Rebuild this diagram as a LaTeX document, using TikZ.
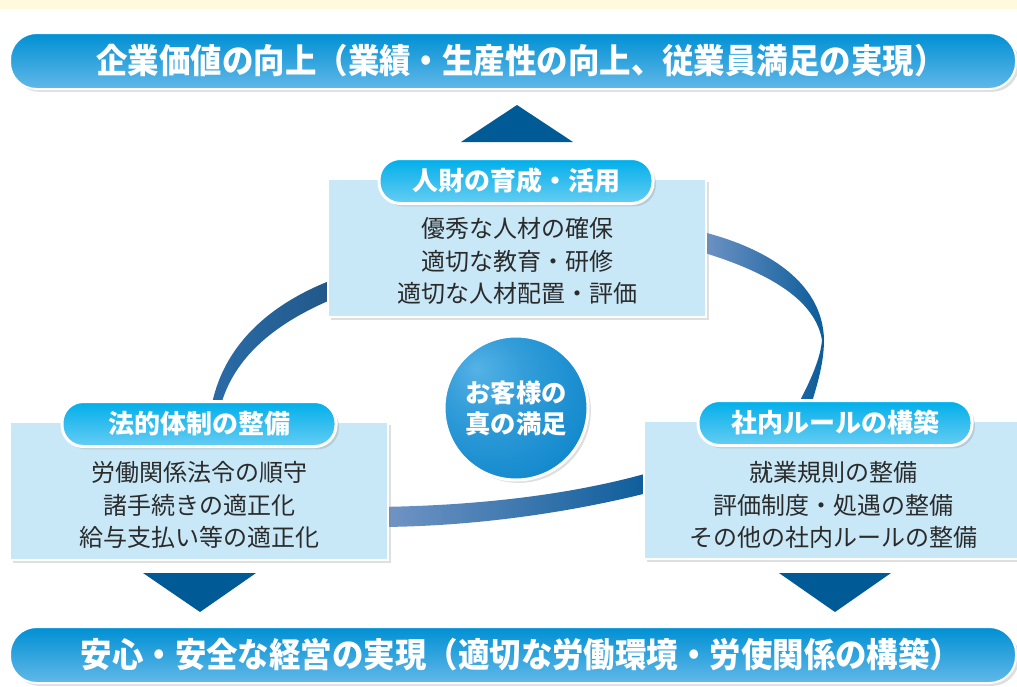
\documentclass[tikz,border=0pt]{standalone}
\usepackage{fontspec}
\newfontfamily\jpfont{Noto Sans CJK JP}
\usetikzlibrary{shadows}
\definecolor{creamstrip}{HTML}{FFF9DE}
\definecolor{bannertop}{HTML}{0090D4}
\definecolor{bannermid}{HTML}{2BA2DE}
\definecolor{bannerbot}{HTML}{62B8E8}
\definecolor{pilltop}{HTML}{00AEEA}
\definecolor{pillbot}{HTML}{66CDF3}
\definecolor{boxfill}{HTML}{C8E8F8}
\definecolor{arrowblue}{HTML}{005A96}
\definecolor{ringdark}{HTML}{0A5C9A}
\definecolor{ringlight}{HTML}{7596C6}
\definecolor{ringmid}{HTML}{2A6CA8}
\definecolor{bodytext}{HTML}{2B2B2B}
\definecolor{cirlight}{HTML}{55B2E6}
\definecolor{cirmid}{HTML}{0A84CA}
\definecolor{cirdark}{HTML}{0060A8}
\pgfdeclareradialshading{sphereblue}{\pgfpoint{-14bp}{14bp}}{color(0bp)=(cirlight);color(14bp)=(cirlight!55!cirmid);color(40bp)=(cirmid);color(70bp)=(cirdark)}
\newcommand{\narrowtext}[1]{\scalebox{0.925}[1]{\hspace{13pt}#1}}
\tikzset{
  banner/.style={draw=white, line width=1.5pt, rounded corners=20pt,
    minimum width=754.5pt, minimum height=42pt, inner sep=0pt,
    top color=bannertop, middle color=bannermid, bottom color=bannerbot,
    text=white, font=\jpfont\bfseries\fontsize{25.5}{27}\selectfont,
    drop shadow={opacity=0.25}},
  listbox/.style={draw=white, line width=1.5pt, fill=boxfill,
    minimum width=284pt, minimum height=103pt, inner sep=0pt,
    drop shadow={opacity=0.25}},
  pill/.style={draw=white, line width=2.25pt, rounded corners=16pt,
    minimum width=205.5pt, minimum height=33.75pt, inner sep=0pt,
    top color=pilltop, bottom color=pillbot,
    text=white, font=\jpfont\bfseries\fontsize{19.5}{22}\selectfont,
    drop shadow={opacity=0.25}},
  listtext/.style={align=center, inner sep=0pt, text=bodytext,
    font=\jpfont\fontsize{18}{24.5}\selectfont},
  ribbon/.style={left color=ringlight, right color=ringdark},
  headarrow/.style={fill=arrowblue, draw=none}
}
\begin{document}
\begin{tikzpicture}[x=0.75pt,y=0.75pt,yscale=-1,xscale=1]
\useasboundingbox (0,0) rectangle (1017,686);
\clip (0,0) rectangle (1017,686);
\fill [white] (0,0) rectangle (1017,686);
\fill [creamstrip] (0,0) rectangle (1017,9);
% ring behind the boxes
\shade [left color=ringmid, right color=ringmid!80!black] (340,277) .. controls (275,300) and (215,345) .. (209,425) -- (217,425) .. controls (225,355) and (285,318) .. (340,296) -- cycle ;
\shade [ribbon] (695,230) .. controls (780,250) and (823,290) .. (824,340) .. controls (824,370) and (812,400) .. (805,425) -- (787,425) .. controls (803,395) and (820,365) .. (822,340) .. controls (815,300) and (770,272) .. (695,250) -- cycle ;
\shade [ribbon] (375,507) .. controls (470,506) and (570,496) .. (655,471) -- (655,491) .. controls (570,513) and (470,527) .. (375,527) -- cycle ;
% arrows
\draw [headarrow] (461,142) -- (517,105) -- (573,142) -- cycle ;
\draw [headarrow] (143,573) -- (256,573) -- (200,612) -- cycle ;
\draw [headarrow] (779,573) -- (891,573) -- (835,612) -- cycle ;
% banners
\draw (513,61) node [banner] (goal) {\narrowtext{企業価値の向上（業績・生産性の向上、従業員満足の実現）}};
\draw (513,655) node [banner] (base) {\narrowtext{安心・安全な経営の実現（適切な労働環境・労使関係の構築）}};
% three pillars
\draw (517,248) node [listbox] (hrbox) {};
\draw (199,491) node [listbox] (lawbox) {};
\draw (833,490) node [listbox] (rulebox) {};
\draw (517,261) node [listtext] (hrlist) {優秀な人材の確保\\適切な教育・研修\\適切な人材配置・評価};
\draw (199,505) node [listtext] (lawlist) {労働関係法令の順守\\諸手続きの適正化\\給与支払い等の適正化};
\draw (833,505) node [listtext] (rulelist) {就業規則の整備\\評価制度・処遇の整備\\その他の社内ルールの整備};
\draw (516,181) node [pill] (hrpill) {人財の育成・活用};
\draw (199,424) node [pill] (lawpill) {法的体制の整備};
\draw (835,423) node [pill] (rulepill) {社内ルールの構築};
% centre
\draw (516,408) node [circle, minimum size=108pt, inner sep=0pt, draw=white, line width=2.25pt, shading=sphereblue, drop shadow={opacity=0.25}, align=center, text=white, font=\jpfont\bfseries\fontsize{19}{23.25}\selectfont] (client) {お客様の\\真の満足};
\end{tikzpicture}
\end{document}
